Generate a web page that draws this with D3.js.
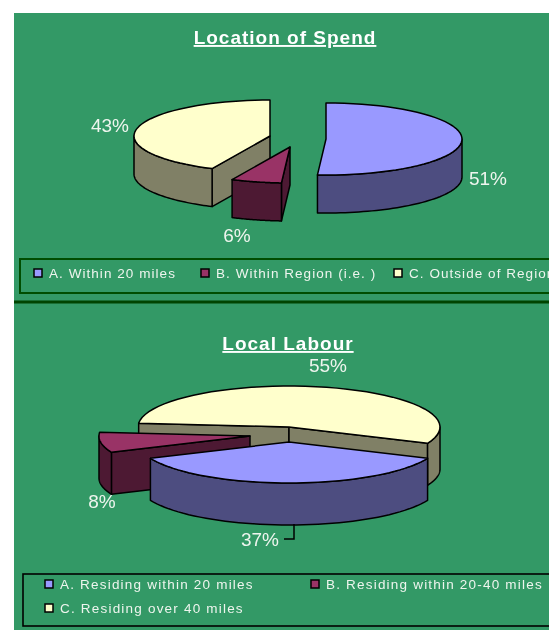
<!DOCTYPE html>
<html><head><meta charset="utf-8">
<script src="https://cdn.jsdelivr.net/npm/d3@7"></script>
<style>
html,body{margin:0;padding:0;background:#fff;overflow:hidden}
svg{display:block;filter:blur(0.35px)}
text{font-family:"Liberation Sans",Arial,sans-serif;fill:#eef5ee}
</style></head><body><svg id="c" width="549" height="630"></svg>
<script>
const spendTitle = "Location of Spend";
const spendCategories = ["A. Within 20 miles", "B. Within Region (i.e. )", "C. Outside of Region"];
const spendValues = [51, 6, 43];
const labourTitle = "Local Labour";
const labourCategories = ["A. Residing within 20 miles", "B. Residing within 20-40 miles", "C. Residing over 40 miles"];
const labourValues = [37, 8, 55];
const topColors = ["#9999ff", "#993366", "#ffffcc"];
const sideColors = ["#4d4d80", "#4d1933", "#808066"];

const charts = [
 {title:spendTitle, titleX:285, titleY:44, cats:spendCategories, vals:spendValues, start:0,
  rx:136, ry:36, depth:38,
  centers:[[326,139],[290,147],[270,136]],
  drawOrder:[2,1,0],
  labels:[[488,185],[237,242],[110,132]],
  legend:{x:20,y:259,w:560,h:34,stroke:"#004d00",sw:2,spacing:1.05,
    items:[[34,273],[201,273],[394,273]]},
  leader:null},
 {title:labourTitle, titleX:288, titleY:350, cats:labourCategories, vals:labourValues, start:113.4,
  rx:151, ry:41, depth:42,
  centers:[[289,442],[250,436],[289,427]],
  drawOrder:[2,1,0],
  labels:[[260,546],[102,508],[328,372]],
  legend:{x:23,y:574,w:560,h:52,stroke:"#000000",sw:1.6,spacing:1.2,
    items:[[45,584],[311,584],[45,608]]},
  leader:[[294,524],[294,539],[284,539]]}
];

const svg = d3.select("#c");
svg.append("rect").attr("x",14).attr("y",13).attr("width",535).attr("height",617).attr("fill","#339966");
svg.append("line").attr("x1",14).attr("x2",549).attr("y1",302).attr("y2",302).attr("stroke","#004400").attr("stroke-width",3);

const rad = d => d*Math.PI/180;

charts.forEach(ch=>{
  const pie = d3.pie().sort(null).value(d=>d)
    .startAngle(rad(ch.start)).endAngle(rad(ch.start+360));
  const arcs = pie(ch.vals);
  const g = svg.append("g");

  const px = d3.scaleLinear().domain([-1,1]).range([-ch.rx,ch.rx]);
  const py = d3.scaleLinear().domain([-1,1]).range([ch.ry,-ch.ry]);
  const pt = (c,a,dz=0)=>[c[0]+px(Math.sin(a)), c[1]+py(Math.cos(a))+dz];
  const line = d3.line();
  const sampled = (c,a0,a1,dz)=>d3.range(0,49).map(i=>pt(c,a0+(a1-a0)*i/48,dz));

  ch.drawOrder.forEach(i=>{
    const a = arcs[i], c = ch.centers[i];
    const sl = g.append("g").attr("stroke","#000").attr("stroke-width",1.5).attr("stroke-linejoin","round");
    // radial walls: only those facing the viewer
    [[a.startAngle,-1],[a.endAngle,1]].forEach(([t,s])=>{
      if(Math.sin(t)*s<=0) return;
      const rim=pt(c,t), rimB=pt(c,t,ch.depth), ap=[c[0],c[1]], apB=[c[0],c[1]+ch.depth];
      sl.append("path").attr("d",line([ap,rim,rimB,apB])+"Z").attr("fill",sideColors[i]);
    });
    // front rim wall
    [0,2*Math.PI].forEach(k=>{
      const lo=Math.max(a.startAngle,Math.PI/2+k), hi=Math.min(a.endAngle,3*Math.PI/2+k);
      if(hi>lo){
        const up=sampled(c,lo,hi,0), dn=sampled(c,hi,lo,ch.depth);
        sl.append("path").attr("d",line(up.concat(dn))+"Z").attr("fill",sideColors[i]);
      }
    });
    // top face
    const topPts=[[c[0],c[1]]].concat(sampled(c,a.startAngle,a.endAngle,0));
    sl.append("path").attr("d",line(topPts)+"Z").attr("fill",topColors[i]);
  });

  // value labels
  ch.vals.forEach((v,i)=>{
    g.append("text").attr("x",ch.labels[i][0]).attr("y",ch.labels[i][1])
     .attr("text-anchor","middle").attr("font-size",19).text(v+"%");
  });
  if(ch.leader) g.append("path").attr("d",line(ch.leader)).attr("fill","none").attr("stroke","#000").attr("stroke-width",1.5);

  // title
  g.append("text").attr("x",ch.titleX).attr("y",ch.titleY).attr("text-anchor","middle")
   .attr("font-size",19).attr("font-weight","bold").attr("text-decoration","underline")
   .style("letter-spacing","1px").style("fill","#fff").text(ch.title);

  // legend
  const L=ch.legend;
  g.append("rect").attr("x",L.x).attr("y",L.y).attr("width",L.w).attr("height",L.h)
   .attr("fill","none").attr("stroke",L.stroke).attr("stroke-width",L.sw);
  ch.cats.forEach((t,i)=>{
    const [x,y]=L.items[i];
    g.append("rect").attr("x",x).attr("y",y-4).attr("width",8).attr("height",8)
     .attr("fill",topColors[i]).attr("stroke","#000").attr("stroke-width",1.5);
    g.append("text").attr("x",x+15).attr("y",y+5).attr("font-size",13.5).style("letter-spacing",L.spacing+"px").text(t);
  });
});
</script></body></html>
